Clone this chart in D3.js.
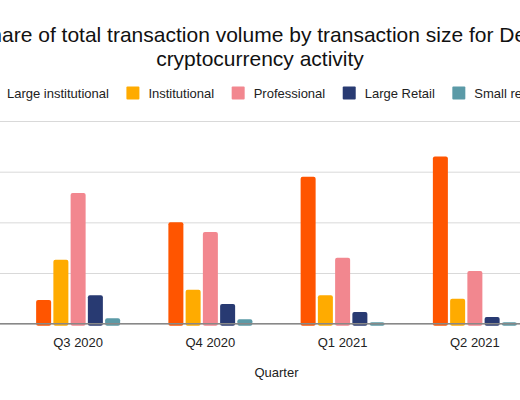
<!DOCTYPE html>
<html>
<head>
    <meta charset="utf-8">
    <title>DeFi transaction size share</title>
    <script src="https://d3js.org/d3.v7.min.js"></script>
    <style>
        body { margin: 0; background: #fff; }
        text { font-family: Arial, "Liberation Sans", sans-serif; }
    </style>
</head>
<body>
<script>
    // data (share of volume, %)
    var quarters = ["Q3 2020", "Q4 2020", "Q1 2021", "Q2 2021"];
    var seriesNames = ["Large institutional", "Institutional", "Professional", "Large Retail", "Small retail"];
    var seriesColors = ["#ff5500", "#ffab00", "#f2878f", "#283a72", "#5b9aa7"];
    var largeInstitutional = [4.7, 20.0, 29.0, 33.0];
    var institutional = [12.6, 6.7, 5.6, 4.9];
    var professional = [25.8, 18.1, 13.0, 10.4];
    var largeRetail = [5.6, 3.9, 2.3, 1.3];
    var smallRetail = [1.1, 0.9, 0.3, 0.3];
    var yTicks = [0, 10, 20, 30, 40];

    var series = [largeInstitutional, institutional, professional, largeRetail, smallRetail];

    var w = 520, h = 400;
    // plot box (left edge of chart is cropped off in the original)
    var pLeft = 12, pRight = 541, pTop = 121, pBottom = 323.7;

    var svg = d3.select("body").append("svg")
        .attr("width", w)
        .attr("height", h);

    var x = d3.scaleBand().domain(quarters).range([pLeft, pRight]);
    var x1 = d3.scaleBand().domain(seriesNames).range([-42, 42]).paddingInner(0.13);
    var y = d3.scaleLinear().domain([0, 40]).range([pBottom, pTop]);

    // gridlines (y labels sit outside the visible crop)
    var yAxis = d3.axisLeft(y).tickValues(yTicks)
        .tickSize(-(pRight + 60))
        .tickFormat("");
    var gy = svg.append("g").attr("transform", "translate(-60,0)").call(yAxis);
    gy.select(".domain").remove();
    gy.selectAll(".tick line").attr("stroke", "#d9d9d9").attr("stroke-width", 1);

    // bars
    quarters.forEach(function(q, qi) {
        var g = svg.append("g")
            .attr("transform", "translate(" + (x(q) + x.bandwidth() / 2) + ",0)");
        g.selectAll("rect")
            .data(seriesNames)
            .enter().append("rect")
            .attr("x", function(d) { return x1(d); })
            .attr("y", function(d, i) { return y(series[i][qi]); })
            .attr("width", x1.bandwidth())
            .attr("height", function(d, i) { return pBottom - y(series[i][qi]) + 2; })
            .attr("rx", 2)
            .attr("fill", function(d, i) { return seriesColors[i]; });
    });

    // baseline + x labels
    var xAxis = d3.axisBottom(x).tickSize(0).tickPadding(14);
    var gx = svg.append("g").attr("transform", "translate(0," + pBottom + ")").call(xAxis);
    gx.select(".domain").remove();
    gx.selectAll("text").attr("font-size", 13).attr("fill", "#222");
    svg.append("line")
        .attr("x1", -60).attr("x2", pRight)
        .attr("y1", pBottom).attr("y2", pBottom)
        .attr("stroke", "#888").attr("stroke-width", 1.5);

    svg.append("text")
        .attr("x", (pLeft + pRight) / 2).attr("y", 377)
        .attr("text-anchor", "middle")
        .attr("font-size", 13).attr("fill", "#222")
        .text("Quarter");

    // title
    var title = svg.append("text")
        .attr("text-anchor", "middle")
        .attr("font-size", 21).attr("fill", "#111");
    title.append("tspan").attr("x", 260).attr("y", 42)
        .text("Share of total transaction volume by transaction size for DeFi");
    title.append("tspan").attr("x", 260).attr("y", 66)
        .text("cryptocurrency activity");

    // legend
    var lx = -15;
    seriesNames.forEach(function(name, i) {
        svg.append("rect")
            .attr("x", lx).attr("y", 86.5)
            .attr("width", 13).attr("height", 13)
            .attr("rx", 1)
            .attr("fill", seriesColors[i]);
        var t = svg.append("text")
            .attr("x", lx + 22).attr("y", 97.5)
            .attr("font-size", 13).attr("fill", "#222")
            .text(name);
        lx = lx + 22 + t.node().getComputedTextLength() + 17.5;
    });
</script>
</body>
</html>
